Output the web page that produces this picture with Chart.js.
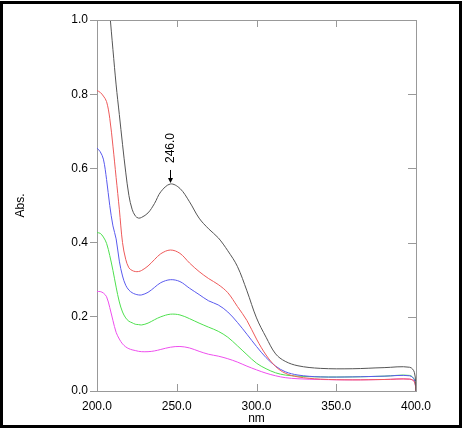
<!DOCTYPE html>
<html>
<head>
<meta charset="utf-8">
<script src="https://cdn.jsdelivr.net/npm/chart.js@4/dist/chart.umd.min.js"></script>
<style>
  html, body { margin: 0; padding: 0; background: #fff; }
  #wrap { position: relative; width: 464px; height: 430px; overflow: hidden; }
  #frame { position: absolute; left: 0; top: 1px; width: 456px; height: 421px; border: 3px solid #000; }
  #c { position: absolute; left: 0; top: 0; }
</style>
</head>
<body>
<div id="wrap">
  <div id="frame"></div>
  <canvas id="c" width="464" height="430"></canvas>
</div>
<script>
// Wavelengths (nm)
const wavelengths = [200, 202, 204, 206, 208, 210, 212, 214, 216, 218, 220, 222, 224, 226, 228, 232, 236, 240, 246, 252, 258, 264, 270, 276, 282, 288, 294, 300, 306, 312, 318, 326, 340, 360, 380, 396, 399, 400];

// Absorbance series
const seriesBlack   = [1.45, 1.35, 1.24, 1.13, 1.02, 0.92, 0.825, 0.745, 0.665, 0.59, 0.527, 0.49, 0.472, 0.466, 0.468, 0.48, 0.505, 0.537, 0.558, 0.546, 0.51, 0.466, 0.437, 0.413, 0.378, 0.336, 0.27, 0.197, 0.145, 0.1, 0.08, 0.068, 0.061, 0.06, 0.063, 0.064, 0.05, 0.0];
const seriesRed     = [0.81, 0.805, 0.795, 0.78, 0.735, 0.66, 0.575, 0.49, 0.4, 0.355, 0.332, 0.325, 0.322, 0.322, 0.325, 0.337, 0.354, 0.37, 0.38, 0.371, 0.345, 0.322, 0.303, 0.287, 0.265, 0.228, 0.19, 0.14, 0.097, 0.066, 0.048, 0.038, 0.032, 0.03, 0.031, 0.032, 0.025, 0.0];
const seriesBlue    = [0.655, 0.645, 0.625, 0.57, 0.5, 0.445, 0.41, 0.35, 0.31, 0.285, 0.272, 0.265, 0.261, 0.259, 0.259, 0.266, 0.279, 0.292, 0.30, 0.295, 0.277, 0.26, 0.243, 0.232, 0.213, 0.185, 0.153, 0.12, 0.09, 0.067, 0.052, 0.043, 0.038, 0.038, 0.04, 0.041, 0.03, 0.0];
const seriesGreen   = [0.427, 0.425, 0.415, 0.398, 0.365, 0.325, 0.28, 0.24, 0.213, 0.197, 0.188, 0.184, 0.18, 0.179, 0.178, 0.183, 0.192, 0.2, 0.207, 0.205, 0.195, 0.183, 0.172, 0.161, 0.145, 0.122, 0.098, 0.075, 0.06, 0.049, 0.043, 0.04, 0.038, 0.038, 0.04, 0.042, 0.03, 0.0];
const seriesMagenta = [0.268, 0.268, 0.264, 0.254, 0.225, 0.19, 0.158, 0.14, 0.127, 0.119, 0.114, 0.111, 0.109, 0.107, 0.106, 0.106, 0.108, 0.112, 0.118, 0.12, 0.116, 0.107, 0.099, 0.094, 0.087, 0.078, 0.067, 0.057, 0.048, 0.041, 0.036, 0.033, 0.031, 0.03, 0.031, 0.032, 0.025, 0.0];

// Tick values
const xTicks = [200, 250, 300, 350, 400];
const yTicks = [0, 0.2, 0.4, 0.6, 0.8, 1.0];

// Peak annotation
const peakNm = 246.0;
const peakAbs = 0.558;
const peakLabel = '246.0';

const FONT = 'Liberation Sans, Arial, sans-serif';
const AXIS = '#999999';

function toPoints(vals) { return wavelengths.map((w, i) => ({ x: w, y: vals[i] })); }
function ds(vals, color) {
  return { data: toPoints(vals), borderColor: color, borderWidth: 1, pointRadius: 0,
           fill: false, tension: 0.35 };
}

const framePlugin = {
  id: 'frameTicks',
  afterDraw(chart) {
    const { ctx, chartArea: a } = chart;
    const xs = chart.scales.x, ys = chart.scales.y;
    ctx.save();
    ctx.strokeStyle = AXIS;
    ctx.lineWidth = 1;
    ctx.beginPath();
    ctx.moveTo(a.left, a.top + 0.5); ctx.lineTo(a.right + 0.5, a.top + 0.5);
    ctx.lineTo(a.right + 0.5, a.bottom);
    xTicks.forEach(v => {
      const px = Math.round(xs.getPixelForValue(v)) + 0.5;
      ctx.moveTo(px, a.top); ctx.lineTo(px, a.top + 7);
      ctx.moveTo(px, a.bottom); ctx.lineTo(px, a.bottom - 7);
    });
    yTicks.forEach(v => {
      const py = Math.round(ys.getPixelForValue(v)) + 0.5;
      ctx.moveTo(a.right, py); ctx.lineTo(a.right - 8, py);
    });
    ctx.stroke();
    ctx.restore();
  }
};

const peakPlugin = {
  id: 'peakMark',
  afterDatasetsDraw(chart) {
    const { ctx } = chart;
    const px = Math.round(chart.scales.x.getPixelForValue(peakNm)) + 0.5;
    const py = chart.scales.y.getPixelForValue(peakAbs);
    ctx.save();
    ctx.strokeStyle = '#000';
    ctx.fillStyle = '#000';
    ctx.lineWidth = 1;
    ctx.beginPath();
    ctx.moveTo(px, py - 14); ctx.lineTo(px, py - 4);
    ctx.stroke();
    ctx.beginPath();
    ctx.moveTo(px - 2.5, py - 6); ctx.lineTo(px + 2.5, py - 6); ctx.lineTo(px, py - 1);
    ctx.closePath(); ctx.fill();
    ctx.translate(px, py - 36);
    ctx.rotate(-Math.PI / 2);
    ctx.font = '12px ' + FONT;
    ctx.textAlign = 'center';
    ctx.textBaseline = 'middle';
    ctx.fillText(peakLabel, 0, 0);
    ctx.restore();
  }
};

new Chart(document.getElementById('c'), {
  type: 'line',
  data: {
    datasets: [
      ds(seriesBlack, '#555555'),
      ds(seriesRed, '#ee5a5a'),
      ds(seriesBlue, '#5a5aee'),
      ds(seriesGreen, '#4ee04e'),
      ds(seriesMagenta, '#ee4eee')
    ]
  },
  options: {
    responsive: false,
    animation: false,
    events: [],
    layout: { padding: { left: 0, top: 20, right: 48, bottom: 0 } },
    plugins: { legend: { display: false }, tooltip: { enabled: false } },
    scales: {
      x: {
        type: 'linear', min: 200, max: 400,
        afterBuildTicks(s) { s.ticks = xTicks.map(v => ({ value: v })); },
        afterFit(s) { s.height = 39; },
        grid: { display: true, drawOnChartArea: false, drawTicks: false },
        border: { display: true, color: AXIS, width: 1 },
        ticks: { color: '#000', font: { family: FONT, size: 12 }, padding: 8, maxRotation: 0,
                 callback: v => Number(v).toFixed(1) },
        title: { display: true, text: 'nm', color: '#000', font: { family: FONT, size: 12 },
                 padding: { top: 0, bottom: 4 } }
      },
      y: {
        type: 'linear', min: 0, max: 1,
        afterBuildTicks(s) { s.ticks = yTicks.map(v => ({ value: v })); },
        afterFit(s) { s.width = 97; },
        grid: { display: true, drawOnChartArea: false, drawTicks: true, tickLength: 7, color: AXIS },
        border: { display: true, color: AXIS, width: 1 },
        ticks: { color: '#000', font: { family: FONT, size: 12 }, padding: 2,
                 callback: v => Number(v).toFixed(1) },
        title: { display: true, text: 'Abs.', color: '#000', font: { family: FONT, size: 12 },
                 padding: { top: 13, bottom: 0 } }
      }
    }
  },
  plugins: [framePlugin, peakPlugin]
});
</script>
</body>
</html>
